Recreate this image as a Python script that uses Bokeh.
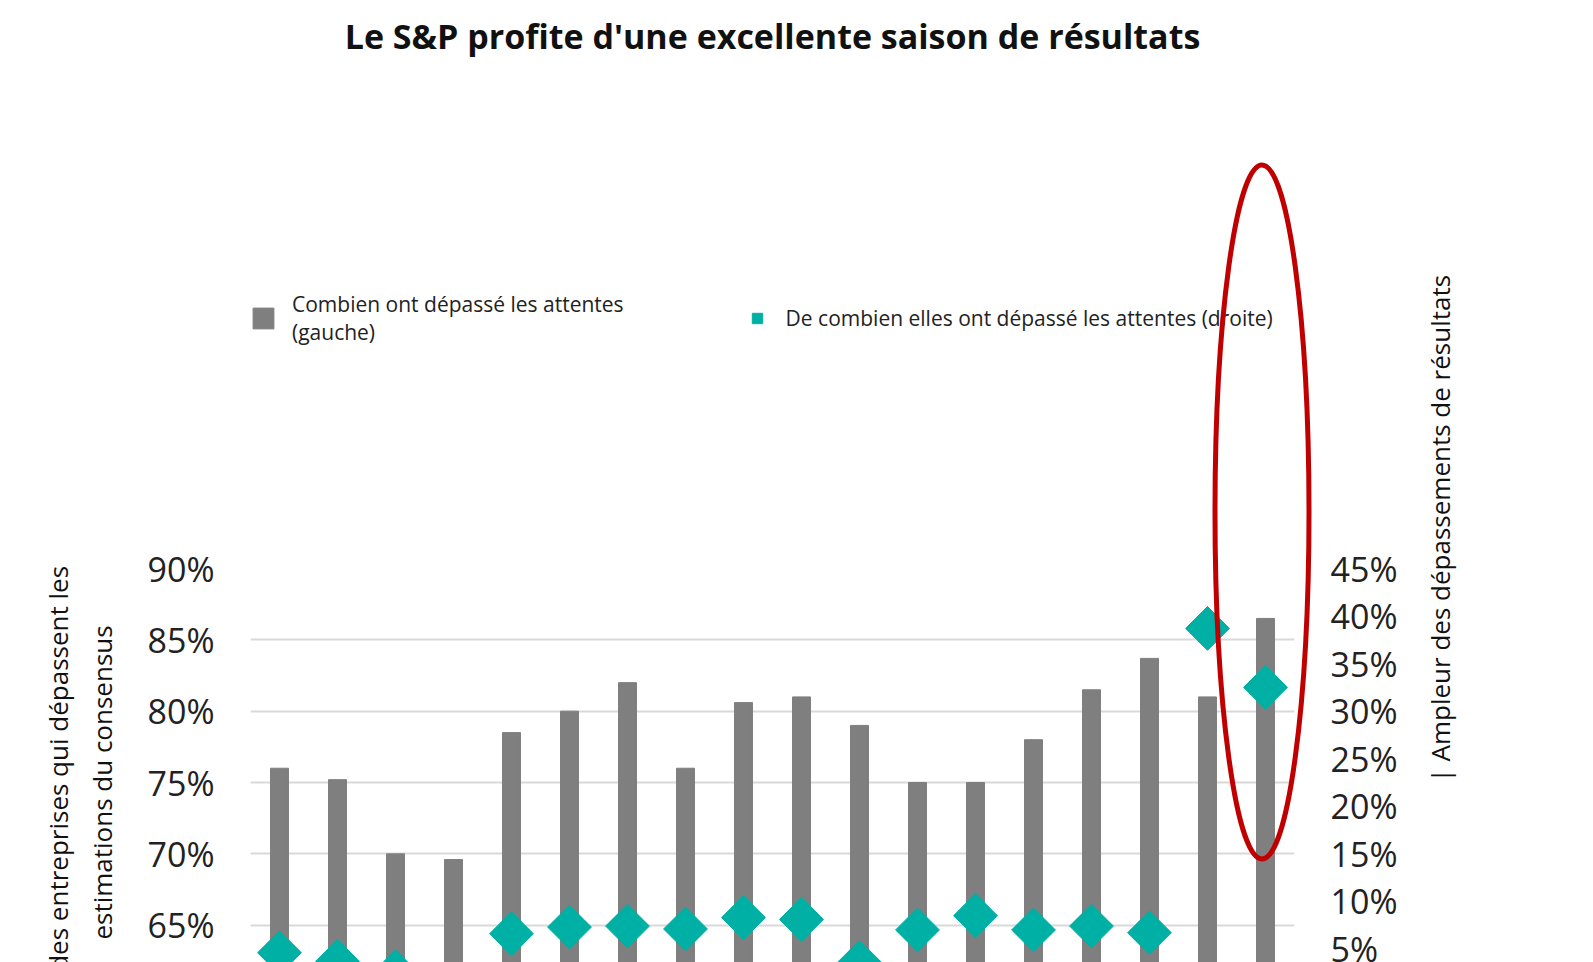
import numpy as np
from bokeh.plotting import figure
from bokeh.models import Range1d, LinearAxis, FixedTicker, Legend, LegendItem, Title
from bokeh.embed import file_html
from bokeh.resources import INLINE

quarters = ["1Q 2022","2Q 2022","3Q 2022","4Q 2022","1Q 2023","2Q 2023","3Q 2023","4Q 2023",
            "1Q 2024","2Q 2024","3Q 2024","4Q 2024","1Q 2025","2Q 2025","3Q 2025","4Q 2025",
            "1Q 2026","2Q 2026"]
beat_pct = [76, 75.2, 70, 69.6, 78.5, 80, 82, 76, 80.6, 81, 79, 75, 75, 78, 81.5, 83.7, 81, 86.5]
beat_size = [4.6, 3.7, 2.6, 0.6, 6.6, 7.3, 7.4, 7.1, 8.3, 8.1, 3.6, 7.0, 8.5, 7.0, 7.4, 6.7, 38.7, 32.5]
left_ticks = [60, 65, 70, 75, 80, 85, 90]
right_ticks = [0, 5, 10, 15, 20, 25, 30, 35, 40, 45]

FONT = "Open Sans"
p = figure(frame_width=1044, frame_height=428, output_backend="svg", toolbar_location=None,
           x_range=Range1d(-0.5, len(quarters) - 0.5), y_range=Range1d(60, 90),
           min_border_left=250, min_border_right=270, min_border_top=196, min_border_bottom=300,
           outline_line_color=None, background_fill_color="white")
p.extra_y_ranges = {"r": Range1d(0, 45)}

x = list(range(len(quarters)))
bars = p.vbar(x=x, top=beat_pct, bottom=60, width=0.31, color="#7f7f7f")
dia = p.scatter(x=x, y=beat_size, y_range_name="r", marker="square", angle=np.pi / 4,
                size=31, color="#00b0a4")

p.title.text = "Le S&P profite d'une excellente saison de résultats"
p.title.align = "center"
p.title.text_font = FONT
p.title.text_font_size = "34px"
p.title.text_font_style = "bold"
p.title.text_color = "#111111"
p.title.standoff = 20

leg = Legend(items=[LegendItem(label="Combien ont dépassé les attentes\n(gauche)", renderers=[bars]),
                    LegendItem(label="De combien elles ont dépassé les attentes (droite)", renderers=[dia])],
             orientation="horizontal", location="top_left", spacing=120, border_line_color=None,
             label_text_font=FONT, label_text_font_size="21px", label_text_color="#222222",
             glyph_width=26, glyph_height=26, label_standoff=16, margin=0, padding=0)
p.add_layout(leg, "above")

ax = p.yaxis[0]
ax.ticker = FixedTicker(ticks=left_ticks)
ax.major_label_overrides = {t: f"{t}%" for t in left_ticks}
ax.axis_label = "% des entreprises qui dépassent les\nestimations du consensus"
ra = LinearAxis(y_range_name="r", ticker=FixedTicker(ticks=right_ticks),
                axis_label="| Ampleur des dépassements de résultats")
ra.major_label_overrides = {t: f"{t}%" for t in right_ticks}
try:
    ra.axis_label_orientation = np.pi / 2
except Exception:
    pass
p.add_layout(ra, "right")
xa = p.xaxis[0]
xa.ticker = FixedTicker(ticks=x)
xa.major_label_overrides = {i: q for i, q in enumerate(quarters)}
xa.major_label_orientation = np.pi / 2
for a in [ax, ra, xa]:
    a.axis_line_color = None
    a.major_tick_line_color = None
    a.minor_tick_line_color = None
    a.major_label_text_font = FONT
    a.major_label_text_color = "#222222"
    a.axis_label_text_font = FONT
    a.axis_label_text_font_style = "normal"
    a.axis_label_text_font_size = "26px"
    a.axis_label_text_color = "#111111"
ax.major_label_text_font_size = "34px"
ra.major_label_text_font_size = "34px"
xa.major_label_text_font_size = "32px"
ax.major_label_standoff = 30
ra.major_label_standoff = 30
ra.axis_label_standoff = 40
ax.axis_label_standoff = 25
xa.major_label_standoff = 20
p.xgrid.grid_line_color = None
p.ygrid.ticker = FixedTicker(ticks=left_ticks)
p.ygrid.grid_line_color = "#d9d9d9"
p.ygrid.grid_line_width = 2

p.add_layout(Title(text="Source:    Bloomberg, Purpose Investments, en date du 30 juillet, 297 des 498 entreprises ayant",
                   text_font=FONT, text_font_size="24px", text_font_style="normal", align="left",
                   offset=-225, standoff=0), "below")
p.add_layout(Title(text="publié leurs résultats", text_font=FONT, text_font_size="24px",
                   text_font_style="normal", align="left", offset=-92, standoff=0), "below")

html = file_html(p, INLINE)
ellipse = ('<svg style="position:absolute;left:0;top:0;pointer-events:none;z-index:10" '
           'width="1593" height="962"><ellipse cx="1262" cy="512" rx="47" ry="347" '
           'fill="none" stroke="#c00000" stroke-width="5"/></svg>')
html = html.replace("</body>", ellipse + "</body>")
open("out.html", "w").write(html)
